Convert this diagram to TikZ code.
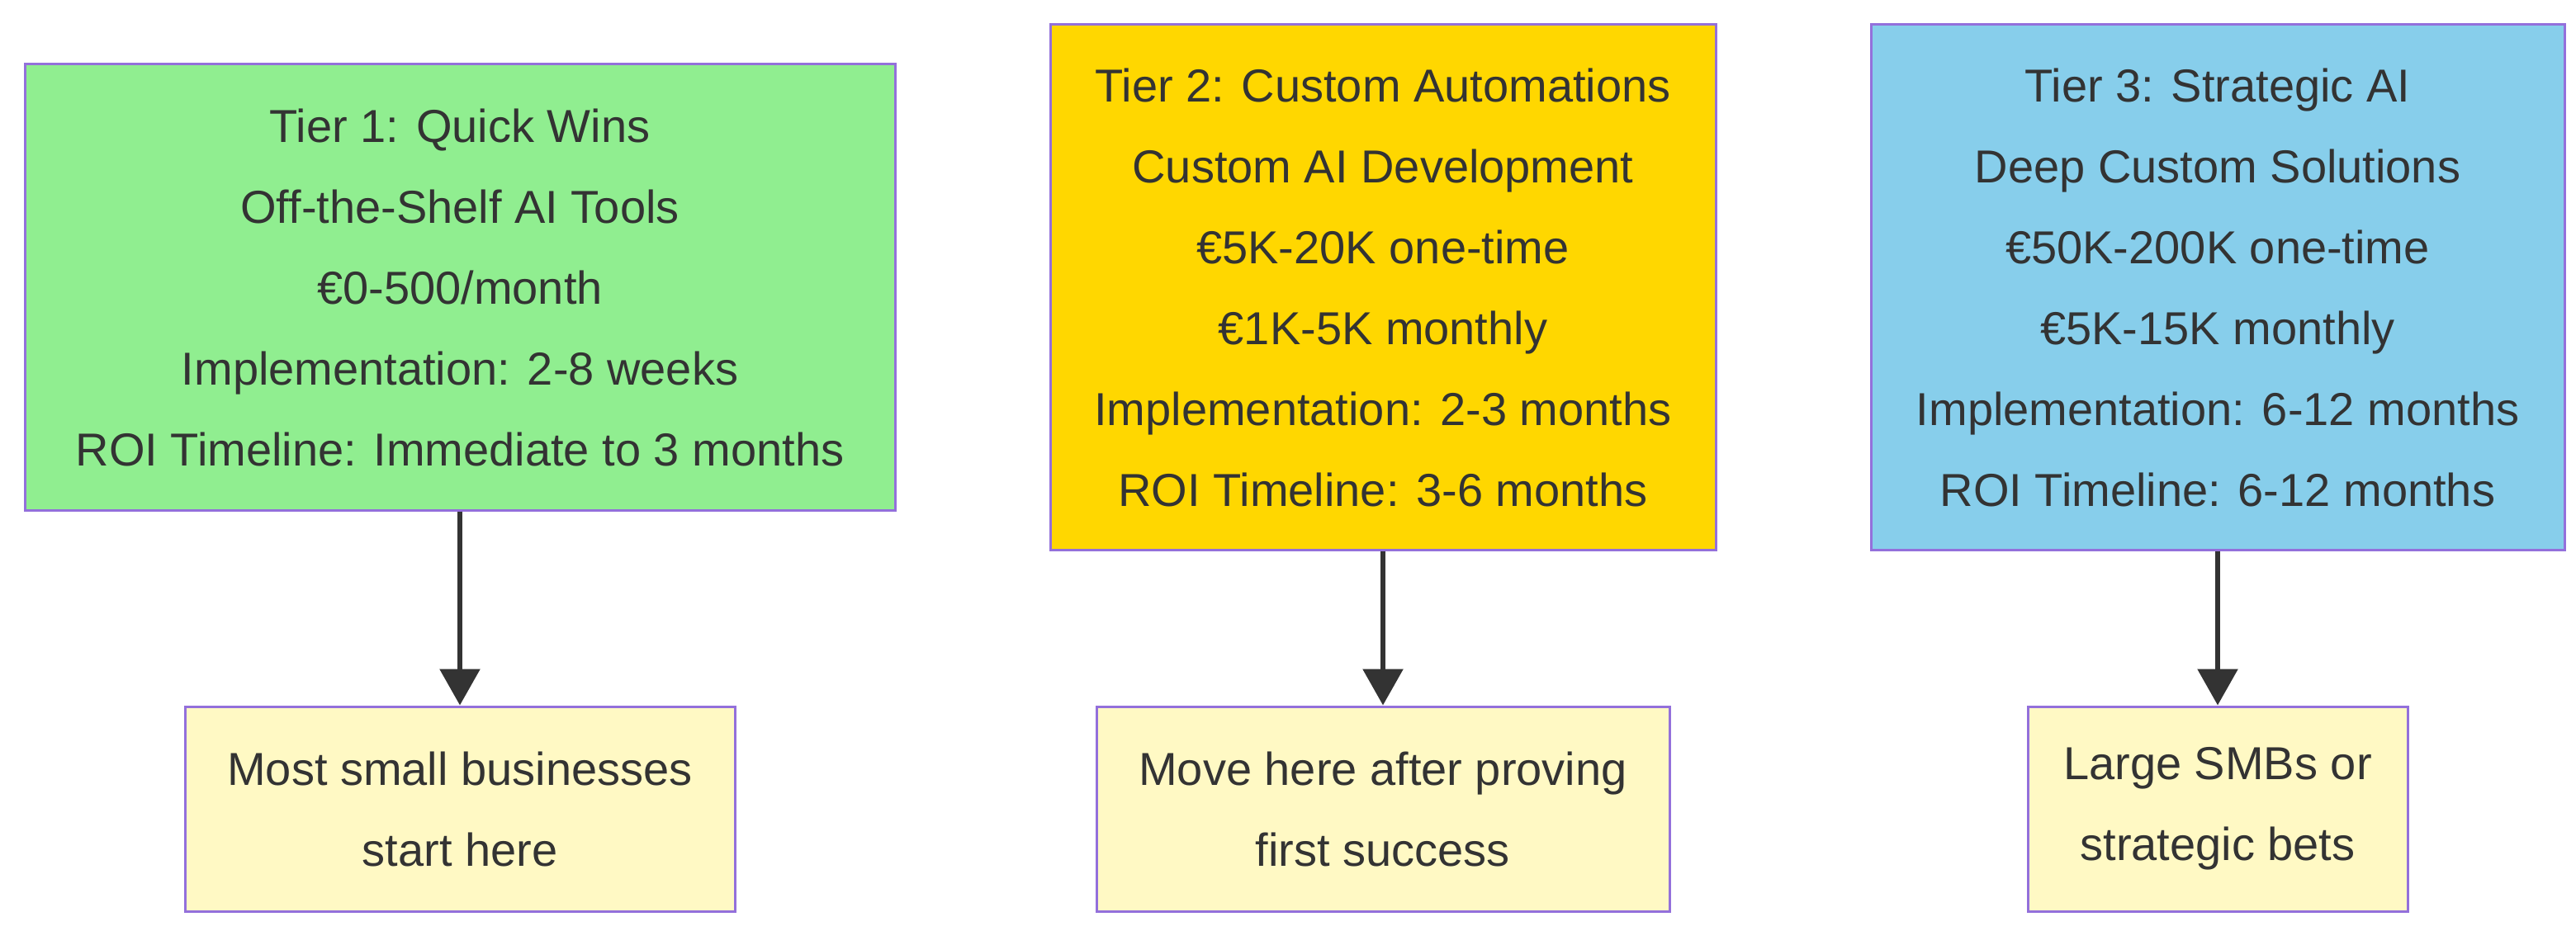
\documentclass[tikz,border=0pt]{standalone}
\usepackage{fontspec}
\setmainfont{Liberation Sans}
\usetikzlibrary{arrows.meta}
\definecolor{tierline}{HTML}{9370DB}
\definecolor{inktext}{HTML}{333333}
\definecolor{quickfill}{HTML}{90EE90}
\definecolor{customfill}{HTML}{FFD700}
\definecolor{strategicfill}{HTML}{87CEEB}
\definecolor{notefill}{HTML}{FFF9C4}
\begin{document}
\begin{tikzpicture}[x=1pt,y=-1pt,>={Triangle[length=22pt,width=24pt]},
  tier/.style={draw=tierline,line width=1.5pt,inner sep=0pt,align=center,text=inktext,
    font=\fontsize{28}{49}\selectfont},
  note/.style={tier,fill=notefill,minimum height=124pt},
  tierarrow/.style={->,draw=inktext,line width=3pt}]
\useasboundingbox (0,0) rectangle (1560,564);

\node[tier,fill=quickfill,minimum width=527pt,minimum height=270pt] (t1) at (278.5,174)
  {Tier 1: Quick Wins\\Off-the-Shelf AI Tools\\€0-500/month\\Implementation: 2-8 weeks\\ROI Timeline: Immediate to 3 months};
\node[tier,fill=customfill,minimum width=403pt,minimum height=318pt] (t2) at (837.5,174)
  {Tier 2: Custom Automations\\Custom AI Development\\€5K-20K one-time\\€1K-5K monthly\\Implementation: 2-3 months\\ROI Timeline: 3-6 months};
\node[tier,fill=strategicfill,minimum width=420pt,minimum height=318pt] (t3) at (1343,174)
  {Tier 3: Strategic AI\\Deep Custom Solutions\\€50K-200K one-time\\€5K-15K monthly\\Implementation: 6-12 months\\ROI Timeline: 6-12 months};

\node[note,minimum width=333pt] (n1) at (278.5,490) {Most small businesses\\start here};
\node[note,minimum width=347pt] (n2) at (837.5,490) {Move here after proving\\first success};
\node[note,minimum width=230pt] (n3) at (1343,490) {Large SMBs or\\strategic bets};

\draw[tierarrow] (t1) -- (n1);
\draw[tierarrow] (t2) -- (n2);
\draw[tierarrow] (t3) -- (n3);
\end{tikzpicture}
\end{document}
